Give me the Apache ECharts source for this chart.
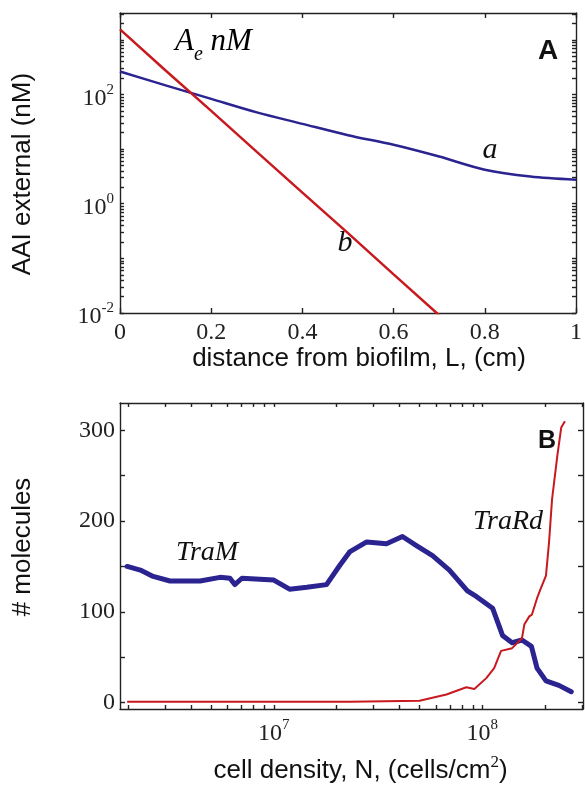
<!DOCTYPE html>
<html>
<head>
<meta charset="utf-8">
<script src="https://cdn.jsdelivr.net/npm/echarts@6/dist/echarts.min.js"></script>
<style>
  html, body { margin: 0; padding: 0; background: #fff; }
  #main { width: 585px; height: 785px; }
</style>
</head>
<body>
<div id="main"></div>
<script>
// panel A: AAI external vs distance from biofilm
var distance = [0, 0.1, 0.2, 0.3, 0.4, 0.5, 0.6, 0.7, 0.8, 0.9, 1.0];
var curveA = [263, 147, 83, 47, 29, 18, 12, 7.3, 4.2, 3.15, 2.75];
var curveB = [1550, 275, 50, 8.9, 1.6, 0.29, 0.051, 0.0091];

// panel B: molecules vs cell density
var tramN = [1.98e6, 2.29e6, 2.64e6, 3.18e6, 4.43e6, 5.52e6, 6.16e6, 6.5e6, 7.03e6, 8.57e6,
  1.0e7, 1.19e7, 1.44e7, 1.79e7, 2.07e7, 2.31e7, 2.79e7, 3.47e7, 4.14e7, 4.83e7,
  5.77e7, 6.95e7, 8.48e7, 9.36e7, 1.12e8, 1.25e8, 1.39e8, 1.55e8, 1.72e8, 1.83e8,
  2.02e8, 2.33e8, 2.67e8];
var tram = [150, 146, 139, 134, 134, 138, 137, 130, 137, 136,
  135, 125, 127, 130, 151, 166, 177, 175, 183, 173,
  162, 146, 123, 117, 104, 74, 66, 69, 62, 38,
  24, 19, 12];
var trardN = [1.98e6, 7.68e6, 2.31e7, 5.0e7, 6.73e7, 8.38e7, 9.16e7, 1.045e8, 1.14e8, 1.23e8,
  1.39e8, 1.55e8, 1.59e8, 1.68e8, 1.73e8, 1.83e8, 1.91e8, 2.02e8, 2.09e8, 2.16e8,
  2.29e8, 2.39e8, 2.49e8];
var trard = [1, 1, 1, 2, 9, 17, 15, 27, 38, 57,
  60, 71, 86, 95, 97, 115, 126, 140, 177, 224,
  272, 303, 310];

// ticks / tick labels
var distTicks = [0, 0.2, 0.4, 0.6, 0.8, 1];
var aaiLabels = [0.01, 1, 100];
var aaiTicks = [0.01, 0.02, 0.03, 0.04, 0.05, 0.06, 0.07, 0.08, 0.09,
  0.1, 0.2, 0.3, 0.4, 0.5, 0.6, 0.7, 0.8, 0.9,
  1, 2, 3, 4, 5, 6, 7, 8, 9,
  10, 20, 30, 40, 50, 60, 70, 80, 90,
  100, 200, 300, 400, 500, 600, 700, 800, 900,
  1000, 2000, 3000];
var densLabels = [1e7, 1e8];
var densTicks = [2e6, 3e6, 4e6, 5e6, 6e6, 7e6, 8e6, 9e6,
  1e7, 2e7, 3e7, 4e7, 5e7, 6e7, 7e7, 8e7, 9e7,
  1e8, 2e8, 3e8];
var molLabels = [0, 100, 200, 300];
var molTicks = [0, 50, 100, 150, 200, 250, 300];

function zip(xs, ys) {
  return xs.map(function (x, i) { return [x, ys[i]]; });
}

var SERIF = 'Liberation Serif';
var SANS = 'Liberation Sans';
var RED = '#c8191f';
var BLUE = '#2a2390';

var lineStyle = { color: '#222', width: 1.4 };
var frameLine = { show: true, onZero: false, lineStyle: lineStyle };
var supRich = {
  b: { fontFamily: SERIF, fontSize: 24, color: '#222', padding: [8, 0, 0, 0], lineHeight: 24 },
  s: { fontFamily: SERIF, fontSize: 15, color: '#222', verticalAlign: 'top', lineHeight: 15 }
};
function powLabel(v) {
  var e = Math.round(Math.log10(v));
  return '{b|10}{s|' + e + '}';
}

// every axis of a frame: line, inward ticks, no grid lines
function frameAxis(base, extra) {
  var o = {
    axisLine: frameLine,
    axisLabel: { show: false },
    splitLine: { show: false },
    axisTick: { inside: true, length: 5, lineStyle: lineStyle }
  };
  return Object.assign(o, base, extra);
}

var chart = echarts.init(document.getElementById('main'));

chart.setOption({
  animation: false,
  backgroundColor: '#fff',
  grid: [
    { left: 120, top: 13, right: 2, height: 300 },
    { left: 120, top: 403, right: 2, height: 308 }
  ],
  xAxis: [
    frameAxis({ type: 'value', gridIndex: 0, min: 0, max: 1 }, {
      position: 'bottom',
      axisTick: { inside: true, length: 5, lineStyle: lineStyle, customValues: distTicks },
      axisLabel: {
        show: true, customValues: distTicks, margin: 8,
        fontFamily: SERIF, fontSize: 24, color: '#222'
      },
      name: 'distance from biofilm, L, (cm)',
      nameLocation: 'middle',
      nameGap: 32,
      nameTextStyle: { fontFamily: SANS, fontSize: 26, color: '#111', padding: [0, 0, 0, 22] }
    }),
    frameAxis({ type: 'value', gridIndex: 0, min: 0, max: 1 }, {
      position: 'top',
      axisTick: { inside: true, length: 5, lineStyle: lineStyle, customValues: distTicks }
    }),
    frameAxis({ type: 'log', gridIndex: 1, min: 1.83e6, max: 3.04e8 }, {
      position: 'bottom',
      axisTick: { inside: true, length: 4, lineStyle: lineStyle, customValues: densTicks },
      axisLabel: {
        show: true, customValues: densLabels, margin: 9,
        formatter: powLabel, rich: supRich
      },
      name: '{t|cell density, N, (cells/cm}{s|2}{t|)}',
      nameLocation: 'middle',
      nameGap: 45,
      nameTextStyle: {
        padding: [0, 0, 0, 18],
        rich: {
          t: { fontFamily: SANS, fontSize: 26, color: '#111', lineHeight: 28, padding: [6, 0, 0, 0] },
          s: { fontFamily: SERIF, fontSize: 17, color: '#111', verticalAlign: 'top', lineHeight: 17 }
        }
      }
    }),
    frameAxis({ type: 'log', gridIndex: 1, min: 1.83e6, max: 3.04e8 }, {
      position: 'top',
      axisTick: { inside: true, length: 4, lineStyle: lineStyle, customValues: densTicks }
    })
  ],
  yAxis: [
    frameAxis({ type: 'log', gridIndex: 0, min: 0.01, max: 3100 }, {
      position: 'left',
      axisTick: { inside: true, length: 4, lineStyle: lineStyle, customValues: aaiTicks },
      axisLabel: {
        show: true, customValues: aaiLabels, margin: 6,
        formatter: powLabel, rich: supRich
      },
      name: 'AAI external (nM)',
      nameLocation: 'middle',
      nameGap: 84,
      nameTextStyle: { fontFamily: SANS, fontSize: 26, color: '#111', padding: [0, 22, 0, 0] }
    }),
    frameAxis({ type: 'log', gridIndex: 0, min: 0.01, max: 3100 }, {
      position: 'right',
      axisTick: { inside: true, length: 4, lineStyle: lineStyle, customValues: aaiTicks }
    }),
    frameAxis({ type: 'value', gridIndex: 1, min: -7, max: 330 }, {
      position: 'left',
      axisTick: { inside: true, length: 5, lineStyle: lineStyle, customValues: molTicks },
      axisLabel: {
        show: true, customValues: molLabels, margin: 5,
        fontFamily: SERIF, fontSize: 24, color: '#222'
      },
      name: '# molecules',
      nameLocation: 'middle',
      nameGap: 84,
      nameTextStyle: { fontFamily: SANS, fontSize: 26, color: '#111', padding: [0, 0, 0, 18] }
    }),
    frameAxis({ type: 'value', gridIndex: 1, min: -7, max: 330 }, {
      position: 'right',
      axisTick: { inside: true, length: 5, lineStyle: lineStyle, customValues: molTicks }
    })
  ],
  series: [
    {
      name: 'a', type: 'line', xAxisIndex: 0, yAxisIndex: 0,
      data: zip(distance, curveA), smooth: 0.3, showSymbol: false,
      lineStyle: { color: BLUE, width: 2.5 }
    },
    {
      name: 'b', type: 'line', xAxisIndex: 0, yAxisIndex: 0,
      data: zip(distance.slice(0, curveB.length), curveB), showSymbol: false,
      lineStyle: { color: RED, width: 2.5 }
    },
    {
      name: 'TraM', type: 'line', xAxisIndex: 2, yAxisIndex: 2,
      data: zip(tramN, tram), showSymbol: false,
      lineStyle: { color: BLUE, width: 5, join: 'round', cap: 'round' }
    },
    {
      name: 'TraRd', type: 'line', xAxisIndex: 2, yAxisIndex: 2,
      data: zip(trardN, trard), showSymbol: false,
      lineStyle: { color: RED, width: 2 }
    }
  ],
  graphic: [
    {
      type: 'text', left: 175, top: 26,
      style: {
        text: '{i|A}{sub|e}{i| nM}',
        rich: {
          i: { fontFamily: SERIF, fontStyle: 'italic', fontSize: 31, color: '#111' },
          sub: { fontFamily: SERIF, fontStyle: 'italic', fontSize: 20, color: '#111', verticalAlign: 'bottom', padding: [0, 0, -8, 0] }
        }
      }
    },
    {
      type: 'text', x: 548, y: 51,
      style: { text: 'A', fontFamily: SANS, fontWeight: 'bold', fontSize: 28, fill: '#111', align: 'center', verticalAlign: 'middle' }
    },
    {
      type: 'text', x: 490, y: 150,
      style: { text: 'a', fontFamily: SERIF, fontStyle: 'italic', fontSize: 30, fill: '#111', align: 'center', verticalAlign: 'middle' }
    },
    {
      type: 'text', x: 345, y: 243,
      style: { text: 'b', fontFamily: SERIF, fontStyle: 'italic', fontSize: 30, fill: '#111', align: 'center', verticalAlign: 'middle' }
    },
    {
      type: 'text', x: 207, y: 553,
      style: { text: 'TraM', fontFamily: SERIF, fontStyle: 'italic', fontSize: 28, fill: '#111', align: 'center', verticalAlign: 'middle' }
    },
    {
      type: 'text', x: 508, y: 522,
      style: { text: 'TraRd', fontFamily: SERIF, fontStyle: 'italic', fontSize: 28, fill: '#111', align: 'center', verticalAlign: 'middle' }
    },
    {
      type: 'text', x: 547, y: 441,
      style: { text: 'B', fontFamily: SANS, fontWeight: 'bold', fontSize: 25, fill: '#111', align: 'center', verticalAlign: 'middle' }
    }
  ]
});
</script>
</body>
</html>
